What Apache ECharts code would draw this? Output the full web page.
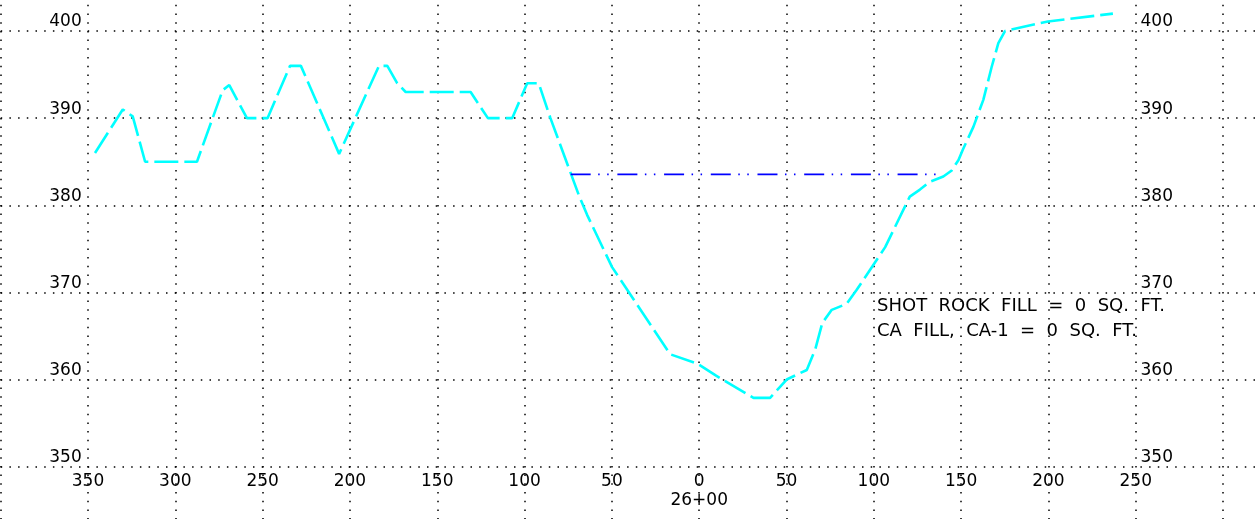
<!DOCTYPE html>
<html>
<head>
<meta charset="utf-8">
<script src="https://cdn.jsdelivr.net/npm/echarts@6/dist/echarts.min.js"></script>
<style>
  html, body { margin: 0; padding: 0; background: #ffffff; }
  #chart { width: 1259px; height: 519px; }
</style>
</head>
<body>
<div id="chart"></div>
<script>
// ---- data (offset in ft: left of centerline negative; elevation in ft) ----
const groundOffsets = [
  -346.0, -330.1, -324.4, -317.3, -287.6, -272.9, -269.1, -259.0, -247.2, -234.3,
  -228.1, -206.2, -183.4, -178.6, -172.9, -168.1, -130.9, -121.0, -107.1, -98.5,
  -91.9, -85.2, -69.0, -64.2, -49.9, -16.6, -1.3, 9.2, 31.1, 40.6,
  50.1, 61.6, 66.5, 70.5, 75.9, 84.5, 90.2, 106.5, 120.6, 126.4,
  132.1, 139.8, 144.6, 148.5, 151.0, 157.0, 162.7, 167.5, 171.3, 175.1,
  199.7, 236.9
];
const groundElevations = [
  386.0, 391.0, 390.2, 385.0, 385.0, 393.2, 393.8, 390.0, 390.0, 396.0,
  396.0, 385.9, 396.0, 396.0, 394.0, 393.0, 393.0, 390.0, 390.0, 394.0,
  394.0, 390.0, 381.2, 378.9, 372.9, 362.9, 361.85, 360.5, 357.9, 357.9,
  360.0, 361.1, 363.5, 366.5, 368.0, 368.7, 370.3, 375.2, 381.0, 381.8,
  382.7, 383.3, 384.0, 385.2, 386.4, 389.0, 392.1, 395.9, 398.6, 400.0,
  401.1, 402.0
];
const gradeOffsets = [-73.6, 139.8];
const gradeElevations = [383.55, 383.55];

const stationLabel = '26+00';
const xTickValues = [-350, -300, -250, -200, -150, -100, -50, 0, 50, 100, 150, 200, 250];
const xTickLabels = ['350', '300', '250', '200', '150', '100', '50', '0', '50', '100', '150', '200', '250'];
const yTickValues = [350, 360, 370, 380, 390, 400];
const yTickLabels = ['350', '360', '370', '380', '390', '400'];
const noteLines = ['SHOT  ROCK  FILL  =  0  SQ.  FT.', 'CA  FILL,  CA-1  =  0  SQ.  FT.'];

// ---- build ----
const groundData = groundOffsets.map((x, i) => [x, groundElevations[i]]);
const gradeData = gradeOffsets.map((x, i) => [x, gradeElevations[i]]);

const FONT = '"DejaVu Sans", sans-serif';
const dotted = { color: '#000000', width: 1.5, type: [1.5, 7.2] };

function xLabel(v) {
  const i = xTickValues.indexOf(v);
  if (i < 0) return '';
  return v === 0 ? xTickLabels[i] + '\n' + stationLabel : xTickLabels[i];
}
function yLabel(v) {
  const i = yTickValues.indexOf(v);
  return i < 0 ? '' : yTickLabels[i];
}

const yCommon = {
  type: 'value', min: 340, max: 410, interval: 10,
  axisLine: { show: false }, axisTick: { show: false }
};

const chart = echarts.init(document.getElementById('chart'), null, { renderer: 'canvas' });
chart.setOption({
  animation: false,
  backgroundColor: '#ffffff',
  grid: {
    left: 0.7, right: -51.4, top: -56.1, bottom: -34.8,
    containLabel: false, outerBoundsMode: 'none'
  },
  xAxis: {
    type: 'value', min: -400, max: 350, interval: 50,
    position: 'bottom', offset: -86.8,
    axisLine: { show: false }, axisTick: { show: false },
    splitLine: { show: true, lineStyle: dotted },
    axisLabel: {
      show: true, margin: 4.5, formatter: xLabel,
      color: '#000', fontFamily: FONT, fontSize: 17, lineHeight: 19.5
    }
  },
  yAxis: [
    Object.assign({}, yCommon, {
      position: 'left', offset: -84,
      splitLine: { show: true, lineStyle: dotted },
      axisLabel: {
        show: true, margin: 3, formatter: yLabel, verticalAlign: 'bottom',
        color: '#000', fontFamily: FONT, fontSize: 17, lineHeight: 17, padding: [0, 0, 0.5, 0]
      }
    }),
    Object.assign({}, yCommon, {
      position: 'right', offset: -171.9,
      splitLine: { show: false },
      axisLabel: {
        show: true, margin: 2, formatter: yLabel, verticalAlign: 'bottom',
        color: '#000', fontFamily: FONT, fontSize: 17, lineHeight: 17, padding: [0, 0, 0.5, 0]
      }
    })
  ],
  series: [
    {
      name: 'Existing ground', type: 'line', data: groundData,
      showSymbol: false, symbol: 'none', smooth: false,
      lineStyle: { color: '#00ffff', width: 2.6, type: [24, 6] }
    },
    {
      name: 'Proposed grade', type: 'line', data: gradeData,
      showSymbol: false, symbol: 'none',
      lineStyle: { color: '#0000ff', width: 1.6, type: [20, 7.5, 1.5, 7.5, 1.5, 8.7] }
    }
  ],
  graphic: noteLines.map((t, i) => ({
    type: 'text', x: 877, y: 306 + i * 25.5,
    style: { text: t, fill: '#000', font: '18px ' + FONT, verticalAlign: 'middle', align: 'left' }
  }))
});
</script>
</body>
</html>
